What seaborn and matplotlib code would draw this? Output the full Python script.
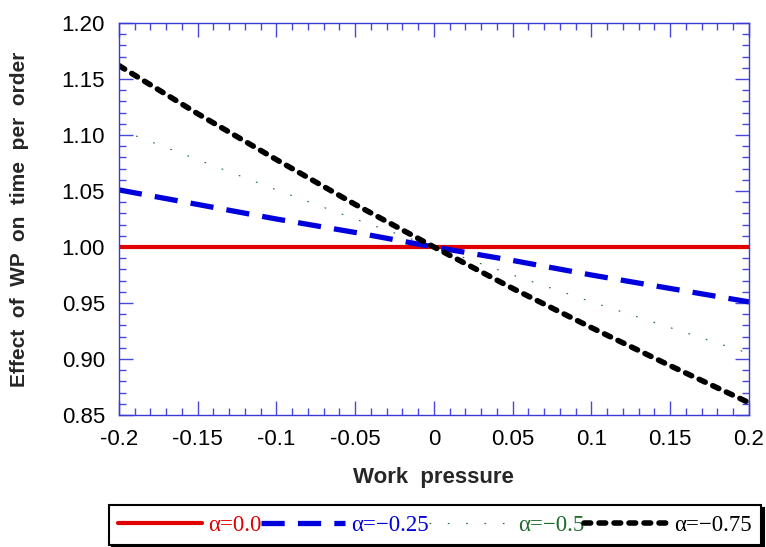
#!/usr/bin/env python3
import matplotlib

matplotlib.use("Agg")
import matplotlib.pyplot as plt
import matplotlib.ticker as mticker
import pandas as pd
import seaborn as sns

# values
work_pressure = [-0.2, -0.15, -0.1, -0.05, 0.0, 0.05, 0.1, 0.15, 0.2]
alpha_0 = [1.0, 1.0, 1.0, 1.0, 1.0, 1.0, 1.0, 1.0, 1.0]
alpha_025 = [1.051, 1.038, 1.025, 1.013, 1.0, 0.988, 0.975, 0.963, 0.951]
alpha_05 = [1.105, 1.078, 1.051, 1.025, 1.0, 0.975, 0.951, 0.928, 0.905]
alpha_075 = [1.162, 1.119, 1.078, 1.038, 1.0, 0.963, 0.928, 0.894, 0.861]
series_labels = ["α=0.0", "α=\u22120.25", "α=\u22120.5", "α=\u22120.75"]


def main() -> None:
    sns.set_style("ticks")
    plt.rcParams["font.family"] = ["Liberation Sans", "DejaVu Sans"]

    df = pd.DataFrame(
        {
            "wp": work_pressure * 4,
            "effect": alpha_0 + alpha_025 + alpha_05 + alpha_075,
            "series": [s for s in series_labels for _ in work_pressure],
        }
    )

    styles = {
        series_labels[0]: dict(color="#e00000", lw=3.0, ls="-"),
        series_labels[1]: dict(color="#0000dd", lw=3.8, ls=(0, (4.4, 2.5))),
        series_labels[2]: dict(color="#1f6b2a", lw=0.8, ls=(0, (1.5, 15))),
        series_labels[3]: dict(color="black", lw=4.0, ls=(0, (1.2, 1.5))),
    }
    text_colors = ["#e00000", "#0000dd", "#1f6b2a", "black"]

    fig = plt.figure(figsize=(7.66, 5.47), dpi=100)
    ax = fig.add_axes([0.1553, 0.2413, 0.8225, 0.7166])

    for name in series_labels:
        st = styles[name]
        sub = df[df["series"] == name]
        sns.lineplot(data=sub, x="wp", y="effect", ax=ax, color=st["color"],
                     linewidth=st["lw"], label=name, legend=False)
        line = ax.lines[-1]
        line.set_linestyle(st["ls"])
        if name == series_labels[3]:
            line.set_dash_capstyle("round")

    ax.set_xlim(-0.2, 0.2)
    ax.set_ylim(0.85, 1.20)
    ax.xaxis.set_major_locator(mticker.MultipleLocator(0.05))
    ax.xaxis.set_minor_locator(mticker.MultipleLocator(0.01))
    ax.yaxis.set_major_locator(mticker.MultipleLocator(0.05))
    ax.yaxis.set_minor_locator(mticker.MultipleLocator(0.01))
    ax.xaxis.set_major_formatter(mticker.FuncFormatter(lambda v, p: f"{v:g}" if abs(v) > 1e-9 else "0"))
    ax.yaxis.set_major_formatter(mticker.FormatStrFormatter("%.2f"))

    tick_col = "#4848e0"
    ax.tick_params(which="both", direction="in", top=True, right=True, color=tick_col,
                   labelsize=16, labelcolor="black")
    ax.tick_params(which="major", length=10, width=1)
    ax.tick_params(which="minor", length=5, width=1)
    ax.tick_params(axis="x", which="major", pad=10)
    ax.tick_params(axis="y", which="major", pad=10)
    for sp in ax.spines.values():
        sp.set_color("#3a3ad8")
        sp.set_linewidth(1.0)
        sp.set_visible(True)

    ax.set_xlabel("Work  pressure", fontsize=16, fontweight="bold")
    ax.set_ylabel("Effect  of  WP  on  time  per  order", fontsize=15, fontweight="bold")
    ax.xaxis.set_label_coords(0.499, -0.133)
    ax.yaxis.set_label_coords(-0.143, 0.50)

    handles, labels = ax.get_legend_handles_labels()
    leg = fig.legend(handles, labels, loc="lower left", bbox_to_anchor=(0.142, 0.003),
                     ncol=4, frameon=True, fancybox=False, shadow={"color": "black", "alpha": 1.0},
                     handlelength=3.65, handletextpad=0.26, columnspacing=0.0,
                     borderpad=0.42, borderaxespad=0.0,
                     prop={"family": "Liberation Serif", "size": 16.5})
    leg.get_frame().set_edgecolor("black")
    leg.get_frame().set_linewidth(1.5)
    for txt, c in zip(leg.get_texts(), text_colors):
        txt.set_color(c)

    fig.savefig("out.png", dpi=100)
    plt.close(fig)


if __name__ == "__main__":
    main()
